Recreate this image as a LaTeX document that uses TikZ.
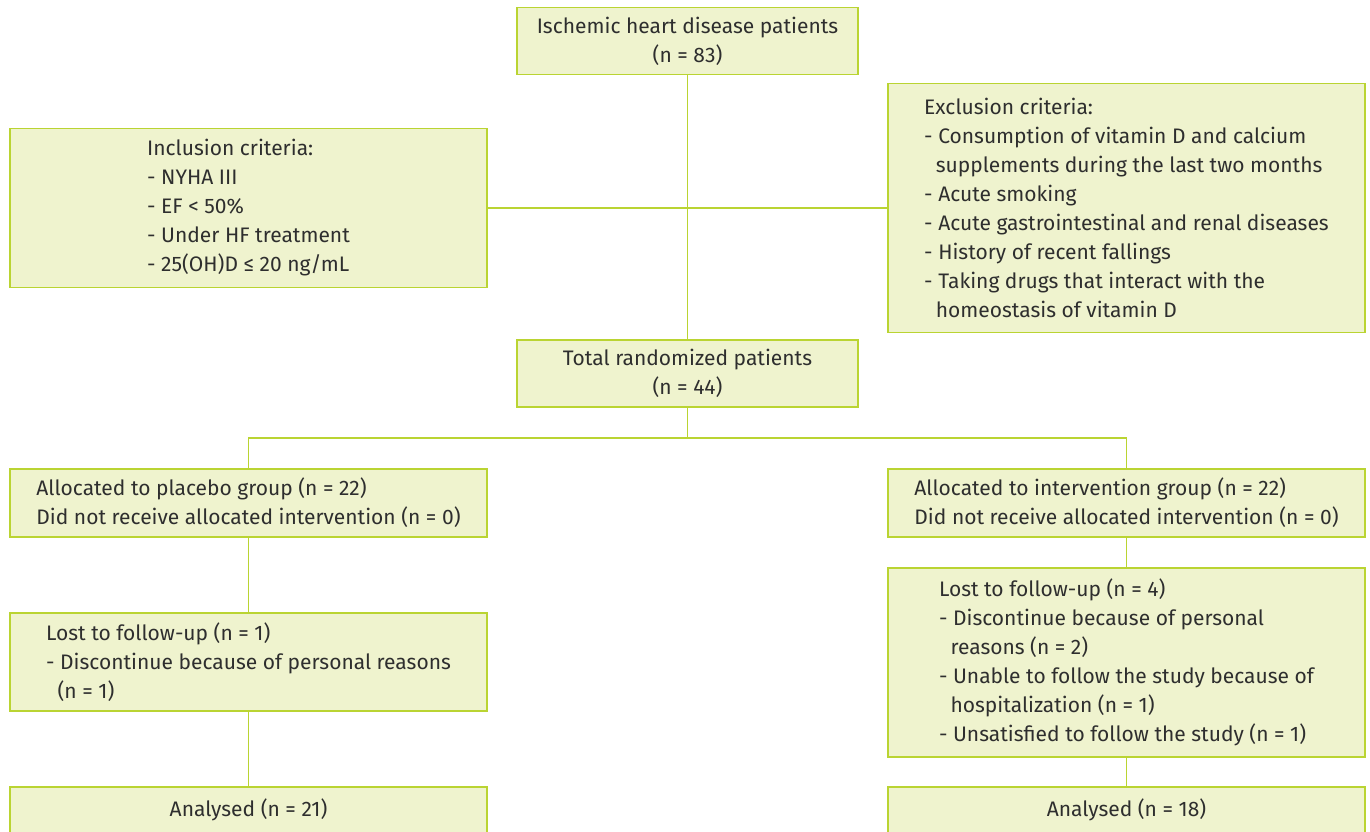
\documentclass[tikz,border=0pt]{standalone}
\usepackage{fontspec}
\setmainfont{Fira Sans}
\usepackage{tikz}

\definecolor{boxfill}{HTML}{EFF3CE}
\definecolor{boxline}{HTML}{BAD432}
\definecolor{txt}{HTML}{2E2E2E}

\begin{document}
\begin{tikzpicture}[x=1pt, y=-1pt]
		\tikzstyle {flow box} = [draw=boxline, fill=boxfill, line width=1.6pt, align=left, text=txt, inner sep=0pt,
			font=\fontsize{21}{29}\selectfont]
		\tikzstyle {small box} = [flow box, align=center, minimum width=341pt, minimum height=67pt]
		\tikzstyle {wide box} = [flow box, minimum width=477pt]
		\tikzstyle {link} = [draw=boxline, line width=1.6pt]

		\useasboundingbox (0,0) rectangle (1370,831);

		\node[small box] (ihd) at (687.5, 41) {Ischemic heart disease patients\\(n = 83)};
		\node[wide box, minimum height=159pt] (incl) at (248.5, 208) {Inclusion criteria:\\- NYHA III\\- EF < 50\%\\- Under HF treatment\\- 25(OH)D ≤ 20 ng/mL};
		\node[wide box, minimum height=249pt] (excl) at (1126.5, 208) {Exclusion criteria:\\- Consumption of vitamin D and calcium\\\hspace*{0.55em}supplements during the last two months\\- Acute smoking\\- Acute gastrointestinal and renal diseases\\- History of recent fallings\\- Taking drugs that interact with the\\\hspace*{0.55em}homeostasis of vitamin D};
		\node[small box] (rand) at (687.5, 373.5) {Total randomized patients\\(n = 44)};

		\node[wide box, minimum height=68pt] (plac) at (248.5, 503) {Allocated to placebo group (n = 22)\\Did not receive allocated intervention (n = 0)};
		\node[wide box, minimum height=68pt] (intv) at (1126.5, 503) {Allocated to intervention group (n = 22)\\Did not receive allocated intervention (n = 0)};

		\node[wide box, minimum height=98pt] (lostp) at (248.5, 662) {Lost to follow-up (n = 1)\\- Discontinue because of personal reasons\\\hspace*{0.55em}(n = 1)};
		\node[wide box, minimum height=189pt] (losti) at (1126.5, 662.5) {Lost to follow-up (n = 4)\\- Discontinue because of personal\\\hspace*{0.55em}reasons (n = 2)\\- Unable to follow the study because of\\\hspace*{0.55em}hospitalization (n = 1)\\- Unsatisfied to follow the study (n = 1)};

		\node[wide box, minimum height=46pt] (anap) at (248.5, 810) {Analysed (n = 21)};
		\node[wide box, minimum height=46pt] (anai) at (1126.5, 810) {Analysed (n = 18)};

		\coordinate (split) at (687.5, 438);

		\draw[link] (ihd) -- (rand);
		\draw[link] (incl) -- (excl);
		\draw[link] (rand) -- (split);
		\draw[link] (plac.north) |- (split) -| (intv.north);
		\draw[link] (plac) -- (lostp);
		\draw[link] (lostp) -- (anap);
		\draw[link] (intv) -- (losti);
		\draw[link] (losti) -- (anai);
\end{tikzpicture}
\end{document}
